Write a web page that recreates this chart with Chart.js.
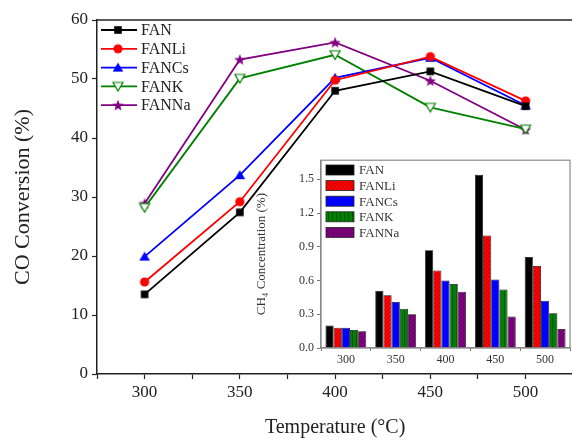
<!DOCTYPE html>
<html><head><meta charset="utf-8">
<script src="https://cdn.jsdelivr.net/npm/chart.js@4/dist/chart.umd.min.js"></script>
<style>
html,body{margin:0;padding:0;background:#fff;overflow:hidden;}
#wrap{position:relative;width:572px;height:440px;overflow:hidden;background:#fff;}
#main{position:absolute;left:0;top:0;}
#inset{position:absolute;left:240px;top:150px;}
</style></head><body>
<div id="wrap">
<canvas id="main" width="580" height="440"></canvas>
<canvas id="inset" width="332" height="222"></canvas>
</div>
<script>
// ---- data ----
const temperatures = [300, 350, 400, 450, 500];
const seriesNames = ['FAN', 'FANLi', 'FANCs', 'FANK', 'FANNa'];
const coFAN   = [13.5, 27.4, 48.0, 51.3, 45.4];
const coFANLi = [15.6, 29.2, 49.8, 53.8, 46.3];
const coFANCs = [19.9, 33.7, 50.2, 53.6, 45.5];
const coFANK  = [28.2, 50.1, 54.1, 45.2, 41.5];
const coFANNa = [28.9, 53.3, 56.2, 49.7, 41.4];
const ch4FAN   = [0.20, 0.51, 0.87, 1.54, 0.81];
const ch4FANLi = [0.18, 0.47, 0.69, 1.00, 0.73];
const ch4FANCs = [0.18, 0.41, 0.60, 0.61, 0.42];
const ch4FANK  = [0.16, 0.35, 0.57, 0.52, 0.31];
const ch4FANNa = [0.15, 0.30, 0.50, 0.28, 0.17];
const coTicks = [0, 10, 20, 30, 40, 50, 60];
const ch4Ticks = [0.0, 0.3, 0.6, 0.9, 1.2, 1.5];

const colors = ['#000000', '#ff0000', '#0000ff', '#008000', '#800080'];
const SERIF = "'Liberation Serif','Times New Roman',serif";

// ---- markers ----
function makeMarker(type, color) {
  const s = 14, c = document.createElement('canvas');
  c.width = s; c.height = s;
  const g = c.getContext('2d');
  const m = s / 2;
  g.fillStyle = color; g.strokeStyle = color; g.lineWidth = 1.2;
  g.beginPath();
  if (type === 'square') { g.rect(m - 3.8, m - 3.8, 7.6, 7.6); g.fill(); }
  else if (type === 'circle') { g.arc(m, m, 4.6, 0, Math.PI * 2); g.fill(); }
  else if (type === 'tri') { g.moveTo(m, m - 5); g.lineTo(m + 5.3, m + 4); g.lineTo(m - 5.3, m + 4); g.closePath(); g.fill(); }
  else if (type === 'tridown') { g.moveTo(m - 5, m - 4); g.lineTo(m + 5, m - 4); g.lineTo(m, m + 4.6); g.closePath(); g.fillStyle = '#fff'; g.fill(); g.stroke(); }
  else if (type === 'star') {
    const R = 6, r = 2.5;
    for (let i = 0; i < 10; i++) {
      const a = -Math.PI / 2 + i * Math.PI / 5, rr = i % 2 ? r : R;
      const x = m + rr * Math.cos(a), y = m + 0.5 + rr * Math.sin(a);
      i ? g.lineTo(x, y) : g.moveTo(x, y);
    }
    g.closePath(); g.fill();
  }
  return c;
}
const markers = [
  makeMarker('square', colors[0]), makeMarker('circle', colors[1]), makeMarker('tri', colors[2]),
  makeMarker('tridown', colors[3]), makeMarker('star', colors[4])
];

const coSeries = [coFAN, coFANLi, coFANCs, coFANK, coFANNa];
const mainDatasets = seriesNames.map((name, i) => ({
  label: name,
  data: temperatures.map((t, j) => ({ x: t, y: coSeries[i][j] })),
  borderColor: colors[i],
  borderWidth: 1.8,
  pointStyle: markers[i],
  pointRadius: 5,
  fill: false,
  tension: 0
}));

const mainLegend = {
  id: 'mainLegend',
  afterDraw(chart) {
    const ctx = chart.ctx, a = chart.chartArea;
    ctx.save();
    // top frame line
    ctx.strokeStyle = '#222'; ctx.lineWidth = 1.5;
    ctx.beginPath(); ctx.moveTo(a.left, a.top); ctx.lineTo(a.right + 5, a.top); ctx.stroke();
    chart.data.datasets.forEach((ds, i) => {
      const y = 30 + i * 18.8;
      ctx.strokeStyle = ds.borderColor; ctx.lineWidth = 1.8;
      ctx.beginPath(); ctx.moveTo(101, y); ctx.lineTo(137, y); ctx.stroke();
      const mk = ds.pointStyle;
      ctx.drawImage(mk, 118 - mk.width / 2, y - mk.height / 2);
      ctx.fillStyle = '#222'; ctx.font = '16px ' + SERIF; ctx.textBaseline = 'middle';
      ctx.fillText(ds.label, 141, y + 1);
    });
    ctx.restore();
  }
};

new Chart(document.getElementById('main'), {
  type: 'line',
  data: { datasets: mainDatasets },
  options: {
    responsive: false, animation: false,
    layout: { padding: { top: 20, right: 5, left: 0, bottom: 0 } },
    plugins: { legend: { display: false }, tooltip: { enabled: false } },
    scales: {
      x: {
        type: 'linear', min: 275, max: 525,
        afterFit: s => { s.height = 66; },
        ticks: {
          stepSize: 25, includeBounds: false, color: '#222', padding: 3,
          font: { family: SERIF, size: 17 },
          callback: v => (v % 50 === 0 ? String(v) : '')
        },
        grid: { drawOnChartArea: false, drawTicks: true, tickLength: 5, color: '#222', tickWidth: 1.2 },
        border: { display: true, color: '#222', width: 1.5 },
        title: { display: true, text: 'Temperature (°C)', color: '#222', font: { family: SERIF, size: 20 }, padding: { top: 0, bottom: 0 } }
      },
      y: {
        min: 0, max: 60,
        afterFit: s => { s.width = 97; },
        afterBuildTicks: s => { s.ticks = coTicks.map(v => ({ value: v })); },
        ticks: { color: '#222', padding: 4, font: { family: SERIF, size: 17 } },
        grid: { drawOnChartArea: false, drawTicks: true, tickLength: 5, color: '#222', tickWidth: 1.2 },
        border: { display: true, color: '#222', width: 1.5 },
        title: { display: true, text: 'CO Conversion (%)', color: '#222', font: { family: SERIF, size: 22 }, padding: { top: 10, bottom: 0 } }
      }
    }
  },
  plugins: [mainLegend]
});

// ---- inset ----
function makePattern(base, line, kind) {
  const c = document.createElement('canvas');
  c.width = 4; c.height = 4;
  const g = c.getContext('2d');
  g.fillStyle = base; g.fillRect(0, 0, 4, 4);
  g.strokeStyle = line; g.lineWidth = 0.8;
  g.beginPath();
  if (kind === 'v') { g.moveTo(0.5, 0); g.lineTo(0.5, 4); }
  else { g.moveTo(0, 4); g.lineTo(4, 0); g.moveTo(-1, 1); g.lineTo(1, -1); g.moveTo(3, 5); g.lineTo(5, 3); }
  g.stroke();
  return g.createPattern(c, 'repeat');
}
const ictx = document.getElementById('inset').getContext('2d');
const barFills = [
  '#000000',
  makePattern('#ff0000', '#b00000', 'd'),
  '#0000ff',
  makePattern('#008000', '#004d00', 'v'),
  makePattern('#800080', '#4d004d', 'd')
];
const ch4Series = [ch4FAN, ch4FANLi, ch4FANCs, ch4FANK, ch4FANNa];
const insetDatasets = seriesNames.map((name, i) => ({
  label: name,
  data: ch4Series[i],
  backgroundColor: barFills[i],
  borderColor: '#111',
  borderWidth: 0.8,
  categoryPercentage: 0.82,
  barPercentage: 1.0
}));

const insetDeco = {
  id: 'insetDeco',
  beforeDraw(chart) {
    const ctx = chart.ctx, a = chart.chartArea;
    ctx.save(); ctx.fillStyle = '#fff';
    ctx.fillRect(a.left, a.top, a.right - a.left, a.bottom - a.top);
    ctx.restore();
  },
  afterDraw(chart) {
    const ctx = chart.ctx, a = chart.chartArea;
    ctx.save();
    ctx.strokeStyle = '#8a8a8a'; ctx.lineWidth = 1.2;
    ctx.strokeRect(a.left, a.top, a.right - a.left, a.bottom - a.top);
    chart.data.datasets.forEach((ds, i) => {
      const y = 20 + i * 15.6;
      ctx.fillStyle = ds.backgroundColor;
      ctx.fillRect(86, y - 5, 28, 10);
      ctx.strokeStyle = '#222'; ctx.lineWidth = 0.8;
      ctx.strokeRect(86, y - 5, 28, 10);
      ctx.fillStyle = '#333'; ctx.font = '13px ' + SERIF; ctx.textBaseline = 'middle';
      ctx.fillText(ds.label, 119, y + 1);
    });
    ctx.restore();
  }
};

new Chart(ictx, {
  type: 'bar',
  data: { labels: temperatures.map(String), datasets: insetDatasets },
  options: {
    responsive: false, animation: false,
    layout: { padding: { top: 9, right: 2, left: 0, bottom: 0 } },
    plugins: { legend: { display: false }, tooltip: { enabled: false } },
    scales: {
      x: {
        afterFit: s => { s.height = 24; },
        ticks: { color: '#333', padding: 2, font: { family: SERIF, size: 12 } },
        grid: { drawOnChartArea: false, drawTicks: true, tickLength: 3, color: '#777', offset: true },
        border: { display: true, color: '#8a8a8a', width: 1.2 }
      },
      y: {
        min: 0, max: 1.67,
        afterFit: s => { s.width = 81; },
        afterBuildTicks: s => { s.ticks = ch4Ticks.map(v => ({ value: v })); },
        ticks: { color: '#333', padding: 3, font: { family: SERIF, size: 12 }, callback: v => Number(v).toFixed(1) },
        grid: { drawOnChartArea: false, drawTicks: true, tickLength: 4, color: '#777' },
        border: { display: true, color: '#8a8a8a', width: 1.2 },
        title: { display: true, text: 'CH₄ Concentration (%)', color: '#333', font: { family: SERIF, size: 13 }, padding: { top: 14, bottom: 0 } }
      }
    }
  },
  plugins: [insetDeco]
});
</script>
</body></html>
